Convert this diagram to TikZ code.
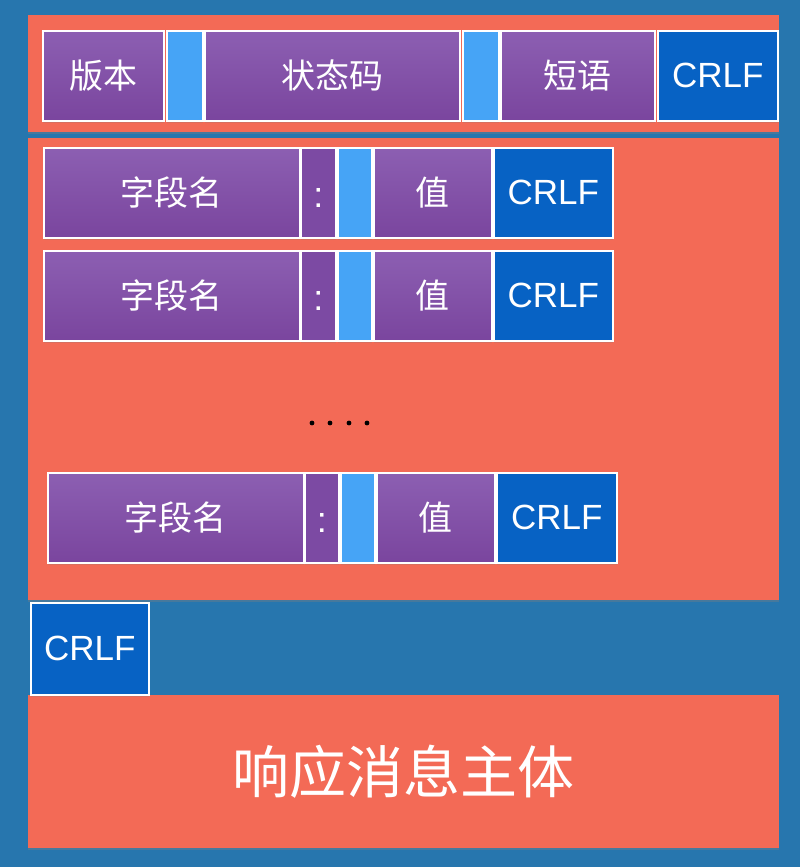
\documentclass[tikz,border=0pt]{standalone}
\usepackage{fontspec}
\setmainfont{Liberation Sans}
\newfontfamily\cjk{Noto Sans CJK SC}
\usetikzlibrary{shadows}
\definecolor{bgblue}{HTML}{2776AE}
\definecolor{redbox}{HTML}{F36A56}
\definecolor{puA}{HTML}{8C5FB2}
\definecolor{puB}{HTML}{7A459E}
\definecolor{puC}{HTML}{7C4AA3}
\definecolor{ltblue}{HTML}{46A4F6}
\definecolor{crblue}{HTML}{0762C4}
\newcommand{\lowcolon}{\raisebox{-5bp}[\height][\depth]{:}}
\begin{document}
\begin{tikzpicture}[x=1bp,y=-1bp,
  outer/.style={fill=redbox, inner sep=0pt, anchor=north west,
    drop shadow={shadow xshift=0bp, shadow yshift=-2bp, opacity=.35}},
  box/.style={draw=white, line width=1.5bp, inner sep=0pt, anchor=north west, text=white,
    minimum height=90bp,
    drop shadow={shadow xshift=0bp, shadow yshift=-2bp, opacity=.25}},
  purp/.style={box, top color=puA, bottom color=puB, font=\cjk\fontsize{34bp}{36bp}\selectfont},
  colonbox/.style={box, fill=puC, font=\fontsize{36bp}{38bp}\selectfont},
  sp/.style={box, fill=ltblue},
  crlf/.style={box, fill=crblue, font=\fontsize{35bp}{37bp}\selectfont},
]
\useasboundingbox (0,0) rectangle (800,867);
\fill[bgblue] (0,0) rectangle (800,867);

% outer red areas
\node[outer, minimum width=751bp, minimum height=117bp] (statusline) at (28,15) {};
\node[outer, minimum width=751bp, minimum height=462bp] (headers) at (28,138) {};
\node[outer, minimum width=751bp, minimum height=153bp, text=white,
  font=\cjk\fontsize{57bp}{59bp}\selectfont] (body) at (28,695) {响应消息主体};

% status line
\node[purp, minimum width=121bp] (ver) at (42,30) {版本};
\node[sp, minimum width=36bp] (sp1) at (166,30) {};
\node[purp, minimum width=255bp] (code) at (204,30) {状态码};
\node[sp, minimum width=36bp] (sp2) at (462,30) {};
\node[purp, minimum width=154bp] (phrase) at (500,30) {短语};
\node[crlf, minimum width=120bp] (cr0) at (657,30) {CRLF};

% header field 1
\node[purp, minimum width=256bp] (f1) at (43,147) {字段名};
\node[colonbox, minimum width=35bp] (c1) at (300,147) {\lowcolon};
\node[sp, minimum width=34bp] (b1) at (337,147) {};
\node[purp, minimum width=118bp] (v1) at (373,147) {值};
\node[crlf, minimum width=119bp] (r1) at (493,147) {CRLF};

% header field 2
\node[purp, minimum width=256bp] (f2) at (43,250) {字段名};
\node[colonbox, minimum width=35bp] (c2) at (300,250) {\lowcolon};
\node[sp, minimum width=34bp] (b2) at (337,250) {};
\node[purp, minimum width=118bp] (v2) at (373,250) {值};
\node[crlf, minimum width=119bp] (r2) at (493,250) {CRLF};

% dots
\foreach \x in {312,330,349,367} \fill[black] (\x,423) circle (2.4);

% header field n
\node[purp, minimum width=256bp] (f3) at (47,472) {字段名};
\node[colonbox, minimum width=34bp] (c3) at (304,472) {\lowcolon};
\node[sp, minimum width=34bp] (b3) at (340,472) {};
\node[purp, minimum width=118bp] (v3) at (376,472) {值};
\node[crlf, minimum width=120bp] (r3) at (496,472) {CRLF};

% empty line CRLF
\node[crlf, minimum width=118bp, minimum height=92bp] (cr4) at (30,602) {CRLF};
\end{tikzpicture}
\end{document}
